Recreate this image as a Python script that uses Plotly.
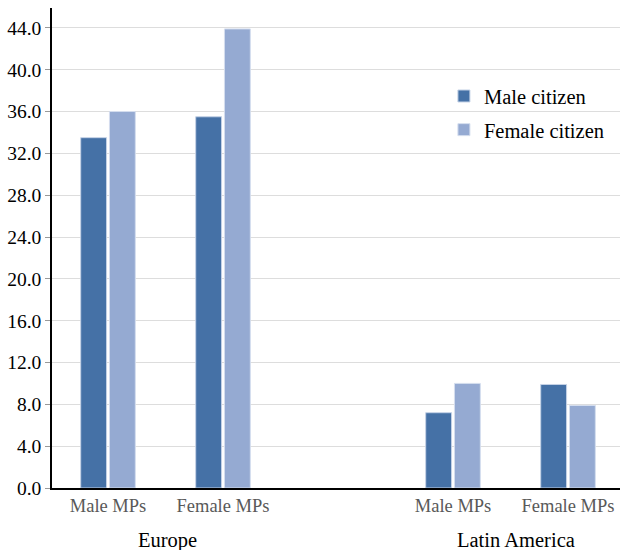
import plotly.graph_objects as go

subgroups = ["Male MPs", "Female MPs", "Male MPs", "Female MPs"]
positions = [0, 1, 3, 4]
regions = ["Europe", "Latin America"]
region_pos = [0.52, 3.545]
male_citizen = [33.5, 35.5, 7.2, 9.9]
female_citizen = [36.0, 43.9, 10.0, 7.9]
y_ticks = [0, 4, 8, 12, 16, 20, 24, 28, 32, 36, 40, 44]

FONT = "Liberation Serif"

fig = go.Figure()
fig.add_trace(go.Bar(x=positions, y=male_citizen, name="Male citizen",
                     marker=dict(color="#4571a6", line=dict(color="#c5d2e6", width=1)),
                     legendgroup="a"))
fig.add_trace(go.Bar(x=positions, y=female_citizen, name="Female citizen",
                     marker=dict(color="#95aad2", line=dict(color="#d5deee", width=1)),
                     legendgroup="b"))

for r, p in zip(regions, region_pos):
    fig.add_annotation(x=p, y=0, xref="x", yref="paper", text=r, showarrow=False,
                       xanchor="center", yanchor="middle",
                       yshift=-52, font=dict(family=FONT, size=20.5, color="black"))

fig.update_layout(
    width=620, height=550,
    margin=dict(l=52, r=0, t=8, b=62),
    plot_bgcolor="white", paper_bgcolor="white",
    barmode="group", bargap=0.5, bargroupgap=0.1,
    font=dict(family=FONT, size=18, color="black"),
    legend=dict(x=0.69, y=0.858, xanchor="left", yanchor="top",
                bgcolor="rgba(0,0,0,0)", font=dict(family=FONT, size=20.5),
                tracegroupgap=4, traceorder="grouped"),
    xaxis=dict(range=[-0.487, 4.452], tickmode="array", tickvals=positions,
               ticktext=subgroups, showgrid=False, showline=True,
               linecolor="black", linewidth=1.5, ticks="",
               tickfont=dict(family=FONT, size=18.5, color="#595959"), zeroline=False),
    yaxis=dict(range=[0, 45.9], tickmode="array", tickvals=y_ticks,
               ticktext=[f"{v:.1f}" for v in y_ticks], showgrid=True,
               gridcolor="#dddddd", gridwidth=1, showline=True, linecolor="black",
               linewidth=1.5, ticks="outside", ticklen=5, tickcolor="#999999",
               tickfont=dict(family=FONT, size=19.5, color="black"), zeroline=False),
)

fig.write_html("out.html", config={"displayModeBar": False},
               post_script="document.body.style.margin='0';document.body.style.overflow='hidden';")
